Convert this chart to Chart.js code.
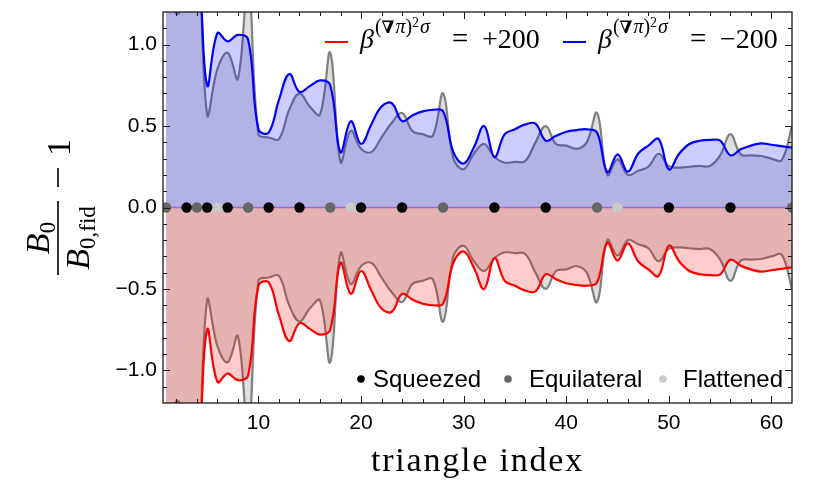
<!DOCTYPE html>
<html>
<head>
<meta charset="utf-8">
<script src="https://cdn.jsdelivr.net/npm/chart.js@4/dist/chart.umd.min.js"></script>
<style>
html, body { margin: 0; padding: 0; background: #fff; }
</style>
</head>
<body>
<canvas id="chart" width="814" height="502"></canvas>
<script>
// triangle index on the x axis
const triangleIndex = Array.from({ length: 62 }, (_, i) => i + 1);

// B0/B0,fid - 1 for beta = -200 (blue) and +200 (red)
const shiftMinus200 = [
  1.90, 1.70, 1.60, 1.55, 0.75, 1.07, 1.02, 1.06, 1.03, 0.48,
  0.46, 0.66, 0.82, 0.71, 0.745, 0.78, 0.75, 0.34, 0.53, 0.39,
  0.51, 0.62, 0.64, 0.53, 0.565, 0.59, 0.60, 0.59, 0.34, 0.27,
  0.37, 0.50, 0.31, 0.45, 0.48, 0.51, 0.515, 0.41, 0.44, 0.465,
  0.475, 0.48, 0.46, 0.217, 0.326, 0.22, 0.33, 0.38, 0.42, 0.234,
  0.33, 0.39, 0.41, 0.415, 0.41, 0.32, 0.357, 0.38, 0.394, 0.385,
  0.377, 0.367
];
const shiftPlus200 = [
  -1.90, -1.70, -1.60, -1.55, -0.75, -1.07, -1.02, -1.06, -1.03, -0.48,
  -0.46, -0.66, -0.82, -0.71, -0.745, -0.78, -0.75, -0.34, -0.53, -0.39,
  -0.51, -0.62, -0.64, -0.53, -0.565, -0.59, -0.60, -0.59, -0.34, -0.27,
  -0.37, -0.50, -0.31, -0.45, -0.48, -0.51, -0.515, -0.41, -0.44, -0.465,
  -0.475, -0.48, -0.46, -0.217, -0.326, -0.22, -0.33, -0.38, -0.42, -0.234,
  -0.33, -0.39, -0.41, -0.415, -0.41, -0.32, -0.357, -0.38, -0.394, -0.385,
  -0.377, -0.367
];
// grey reference curves
const refUpper = [
  1.50, 1.19, 1.30, 1.70, 0.57, 0.85, 0.95, 0.79, 1.40, 0.45,
  0.43, 0.42, 0.60, 0.70, 0.62, 0.57, 0.95, 0.28, 0.47, 0.36,
  0.34, 0.43, 0.52, 0.58, 0.47, 0.45, 0.44, 0.70, 0.30, 0.235,
  0.33, 0.39, 0.31, 0.275, 0.28, 0.285, 0.40, 0.50, 0.39, 0.38,
  0.36, 0.40, 0.58, 0.20, 0.295, 0.20, 0.225, 0.25, 0.33, 0.254,
  0.245, 0.25, 0.255, 0.255, 0.32, 0.45, 0.326, 0.32, 0.316, 0.30,
  0.29, 0.50
];
const refLower = [
  -1.50, -1.19, -1.30, -1.70, -0.57, -0.85, -0.95, -0.79, -1.40, -0.45,
  -0.43, -0.42, -0.60, -0.70, -0.62, -0.57, -0.95, -0.28, -0.47, -0.36,
  -0.34, -0.43, -0.52, -0.58, -0.47, -0.45, -0.44, -0.70, -0.30, -0.235,
  -0.33, -0.39, -0.31, -0.275, -0.28, -0.285, -0.40, -0.50, -0.39, -0.38,
  -0.36, -0.40, -0.58, -0.20, -0.295, -0.20, -0.225, -0.25, -0.33, -0.254,
  -0.245, -0.25, -0.255, -0.255, -0.32, -0.45, -0.326, -0.32, -0.316, -0.30,
  -0.29, -0.50
];

// triangle shapes marked on the zero line
const squeezed = [3, 5, 7, 11, 14, 20, 24, 33, 38, 50, 56];
const equilateral = [1, 4, 9, 17, 28, 43, 62];
const flattened = [6, 19, 45];

const xTicks = [10, 20, 30, 40, 50, 60];
const yTicks = [-1.0, -0.5, 0.0, 0.5, 1.0];

const toPoints = arr => triangleIndex.map((x, i) => ({ x: x, y: arr[i] }));
const onZero = arr => arr.map(x => ({ x: x, y: 0 }));

function curve(data, line, fill) {
  return {
    data: toPoints(data),
    borderColor: line,
    backgroundColor: fill,
    borderWidth: 2.2,
    pointRadius: 0,
    tension: 0.4,
    fill: 'origin'
  };
}

function dots(data, color) {
  return {
    data: onZero(data),
    showLine: false,
    pointRadius: 5.2,
    pointBackgroundColor: color,
    pointBorderWidth: 0,
    clip: 0
  };
}

function drawMathLegend(ctx, x0, color, value) {
  ctx.strokeStyle = color;
  ctx.lineWidth = 2;
  ctx.beginPath();
  ctx.moveTo(x0, 42);
  ctx.lineTo(x0 + 23, 42);
  ctx.stroke();
  ctx.fillStyle = '#000';
  ctx.textAlign = 'left';
  ctx.textBaseline = 'alphabetic';
  let x = x0 + 35;
  const put = (s, font, y, gap) => {
    ctx.font = font;
    ctx.fillText(s, x, y);
    x += ctx.measureText(s).width + (gap || 0);
  };
  put('β', 'italic 28px "Liberation Serif"', 48, 1);
  put('(', '20px "Liberation Serif"', 33);
  put('∇', 'bold 17px "DejaVu Serif"', 33, 1);
  put('π', 'italic 20px "Liberation Serif"', 33);
  put(')', '20px "Liberation Serif"', 33);
  put('2', '14px "Liberation Serif"', 27, 1);
  put('σ', 'italic 20px "Liberation Serif"', 33);
  x = x0 + 127;
  put('=', '29px "Liberation Serif"', 48);
  x = x0 + 157;
  put(value, '28px "Liberation Serif"', 48);
}

const decor = {
  id: 'decor',
  afterDatasetDraw(chart, args) {
    // thin line at zero, under the shape markers
    if (args.index !== 3) return;
    const { ctx, chartArea: a, scales: { y } } = chart;
    const y0 = y.getPixelForValue(0);
    ctx.save();
    ctx.strokeStyle = 'rgba(160,90,200,0.85)';
    ctx.lineWidth = 1.5;
    ctx.beginPath();
    ctx.moveTo(a.left, y0);
    ctx.lineTo(a.right, y0);
    ctx.stroke();
    ctx.restore();
  },
  afterDatasetsDraw(chart) {
    const { ctx, chartArea: a, scales: { x, y } } = chart;
    ctx.save();
    ctx.strokeStyle = '#1a1a1a';
    ctx.lineWidth = 1.3;
    ctx.strokeRect(a.left, a.top, a.right - a.left, a.bottom - a.top);
    ctx.lineWidth = 1;
    ctx.beginPath();
    for (let v = 2; v < 62; v += 2) {
      const px = Math.round(x.getPixelForValue(v)) + 0.5;
      const len = v % 10 === 0 ? 7 : 4;
      ctx.moveTo(px, a.bottom); ctx.lineTo(px, a.bottom - len);
      ctx.moveTo(px, a.top); ctx.lineTo(px, a.top + len);
    }
    for (let k = -11; k <= 11; k++) {
      const py = Math.round(y.getPixelForValue(k / 10)) + 0.5;
      const len = k % 5 === 0 ? 7 : 4;
      ctx.moveTo(a.left, py); ctx.lineTo(a.left + len, py);
      ctx.moveTo(a.right, py); ctx.lineTo(a.right - len, py);
    }
    ctx.stroke();
    ctx.restore();
  },
  afterDraw(chart) {
    const { ctx, chartArea: a } = chart;
    ctx.save();

    // x title
    ctx.fillStyle = '#000';
    ctx.font = '34px "Liberation Serif"';
    ctx.letterSpacing = '1.8px';
    ctx.textAlign = 'center';
    ctx.textBaseline = 'alphabetic';
    ctx.fillText('triangle index', (a.left + a.right) / 2, 471);
    ctx.letterSpacing = '0px';

    // y title: B0 / B0,fid - 1
    ctx.save();
    ctx.translate(58, 238);
    ctx.rotate(-Math.PI / 2);
    ctx.fillRect(-37, -0.8, 74, 1.6);
    ctx.textAlign = 'left';
    ctx.font = 'italic 34px "Liberation Serif"';
    const bw = ctx.measureText('B').width;
    ctx.font = '23px "Liberation Serif"';
    const zw = ctx.measureText('0').width;
    ctx.font = 'italic 34px "Liberation Serif"';
    ctx.fillText('B', -(bw + zw) / 2, -9);
    ctx.font = '23px "Liberation Serif"';
    ctx.fillText('0', -(bw + zw) / 2 + bw, -3);
    const dw = bw + ctx.measureText('0,fid').width;
    ctx.font = 'italic 34px "Liberation Serif"';
    ctx.fillText('B', -dw / 2, 31);
    ctx.font = '23px "Liberation Serif"';
    ctx.fillText('0,fid', -dw / 2 + bw, 37);
    ctx.fillRect(51, -0.8, 19, 1.6);
    ctx.font = '34px "Liberation Serif"';
    ctx.fillText('1', 82, 12);
    ctx.restore();

    // curve legend
    drawMathLegend(ctx, 325, '#ff0000', '+200');
    drawMathLegend(ctx, 563, '#0000ff', '−200');

    // shape legend
    ctx.font = '24px "Liberation Sans"';
    ctx.textAlign = 'left';
    const items = [[361, 373, '#000000', 'Squeezed'], [508, 529, '#666666', 'Equilateral'], [663, 683, '#c8c8c8', 'Flattened']];
    items.forEach(([dx, tx, c, label]) => {
      ctx.fillStyle = c;
      ctx.beginPath();
      ctx.arc(dx, 379, 3.8, 0, Math.PI * 2);
      ctx.fill();
      ctx.fillStyle = '#000';
      ctx.fillText(label, tx, 387);
    });
    ctx.restore();
  }
};

new Chart(document.getElementById('chart'), {
  type: 'line',
  data: {
    datasets: [
      dots(squeezed, '#000000'),
      dots(equilateral, '#666666'),
      dots(flattened, '#c8c8c8'),
      curve(shiftMinus200, '#0000ff', 'rgba(0,0,255,0.2)'),
      curve(shiftPlus200, '#ff0000', 'rgba(255,0,0,0.2)'),
      curve(refUpper, 'rgb(128,128,128)', 'rgba(128,128,128,0.25)'),
      curve(refLower, 'rgb(128,128,128)', 'rgba(128,128,128,0.25)')
    ]
  },
  options: {
    responsive: false,
    animation: false,
    devicePixelRatio: 1,
    events: [],
    layout: { padding: { left: 0, right: 22, top: 12, bottom: 0 } },
    elements: { line: { capBezierPoints: false } },
    plugins: { legend: { display: false }, tooltip: { enabled: false } },
    scales: {
      x: {
        type: 'linear',
        min: 0.7,
        max: 62,
        afterBuildTicks: s => { s.ticks = xTicks.map(v => ({ value: v })); },
        afterFit: s => { s.height = 99; s.paddingLeft = 0; s.paddingRight = 0; },
        grid: { display: false, drawTicks: false },
        border: { display: false },
        ticks: {
          color: '#000',
          font: { family: 'Liberation Sans', size: 21 },
          padding: 8,
          maxRotation: 0,
          autoSkip: false
        }
      },
      y: {
        min: -1.2,
        max: 1.2,
        afterBuildTicks: s => { s.ticks = yTicks.map(v => ({ value: v })); },
        afterFit: s => { s.width = 163; s.paddingTop = 0; s.paddingBottom = 0; },
        grid: { display: false, drawTicks: false },
        border: { display: false },
        ticks: {
          color: '#000',
          font: { family: 'Liberation Sans', size: 21 },
          padding: 6,
          callback: v => (v < 0 ? '−' : '') + Math.abs(v).toFixed(1)
        }
      }
    }
  },
  plugins: [decor]
});
</script>
</body>
</html>
